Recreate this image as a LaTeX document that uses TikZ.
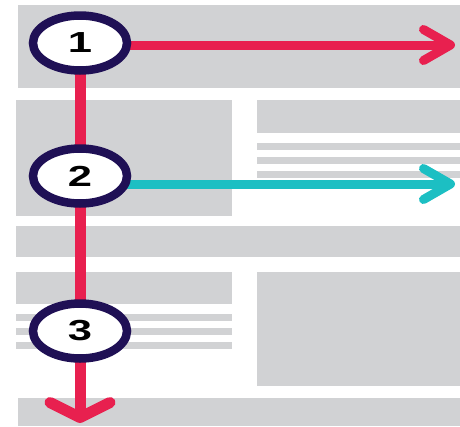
\documentclass[tikz,border=0pt]{standalone}
\usepackage{fontspec}
\setsansfont{Liberation Sans}
\usepackage{graphicx}
\usetikzlibrary{shapes.geometric,arrows.meta}

\definecolor{paperGray}{HTML}{D1D2D4}
\definecolor{flowRed}{HTML}{E8204F}
\definecolor{flowCyan}{HTML}{1CBFC3}
\definecolor{ringPurple}{HTML}{1F1055}

\pgfdeclarelayer{paper}
\pgfdeclarelayer{wires}
\pgfsetlayers{paper,wires,main}

\newcommand{\stepnum}[1]{\scalebox{1.5}[1]{#1}}

\begin{document}
\begin{tikzpicture}[x=1pt, y=-1pt,
        block/.style={fill=paperGray, draw=none},
        stepnode/.style={ellipse, draw=ringPurple, fill=white, line width=8.5pt,
            minimum width=94pt, minimum height=55pt, inner sep=0pt,
            font=\sffamily\bfseries\fontsize{29}{29}\selectfont},
        hflow/.style={line width=9pt, -{Straight Barb[length=27pt, width=31pt, round]}},
        vflow/.style={flowRed, line width=11pt, -{Straight Barb[length=15pt, width=60pt, round]}}
    ]
        \useasboundingbox (0,0) rectangle (460,426);

        % page blocks
        \begin{pgfonlayer}{paper}
            \fill[block] (18,5) rectangle (460,88);
            \fill[block] (16,100) rectangle (232,216);
            \fill[block] (257,100) rectangle (460,133);
            \foreach \y in {143,157,171}
                \fill[block] (257,\y) rectangle (460,\y+7);
            \fill[block] (16,226) rectangle (460,257);
            \fill[block] (16,272) rectangle (232,304);
            \foreach \y in {314,328,342}
                \fill[block] (16,\y) rectangle (232,\y+7);
            \fill[block] (257,272) rectangle (460,386);
            \fill[block] (18,398) rectangle (460,426);
        \end{pgfonlayer}

        % steps
        \node[stepnode] (c1) at (80,43) {\stepnum{1}};
        \node[stepnode] (c2) at (80,176) {\stepnum{2}};
        \node[stepnode] (c3) at (80,331) {\stepnum{3}};

        \coordinate (tip1) at (455,45);
        \coordinate (tip2) at (455,184);
        \coordinate (tipv) at (80,423);

        % flows
        \begin{pgfonlayer}{wires}
            \draw[vflow] (c1.center) -- (c2.center) -- (c3.center) -- (tipv);
            \draw[hflow, flowRed] (c1.center |- tip1) -- (tip1);
            \draw[hflow, flowCyan] (c2.center |- tip2) -- (tip2);
        \end{pgfonlayer}
    \end{tikzpicture}
\end{document}
